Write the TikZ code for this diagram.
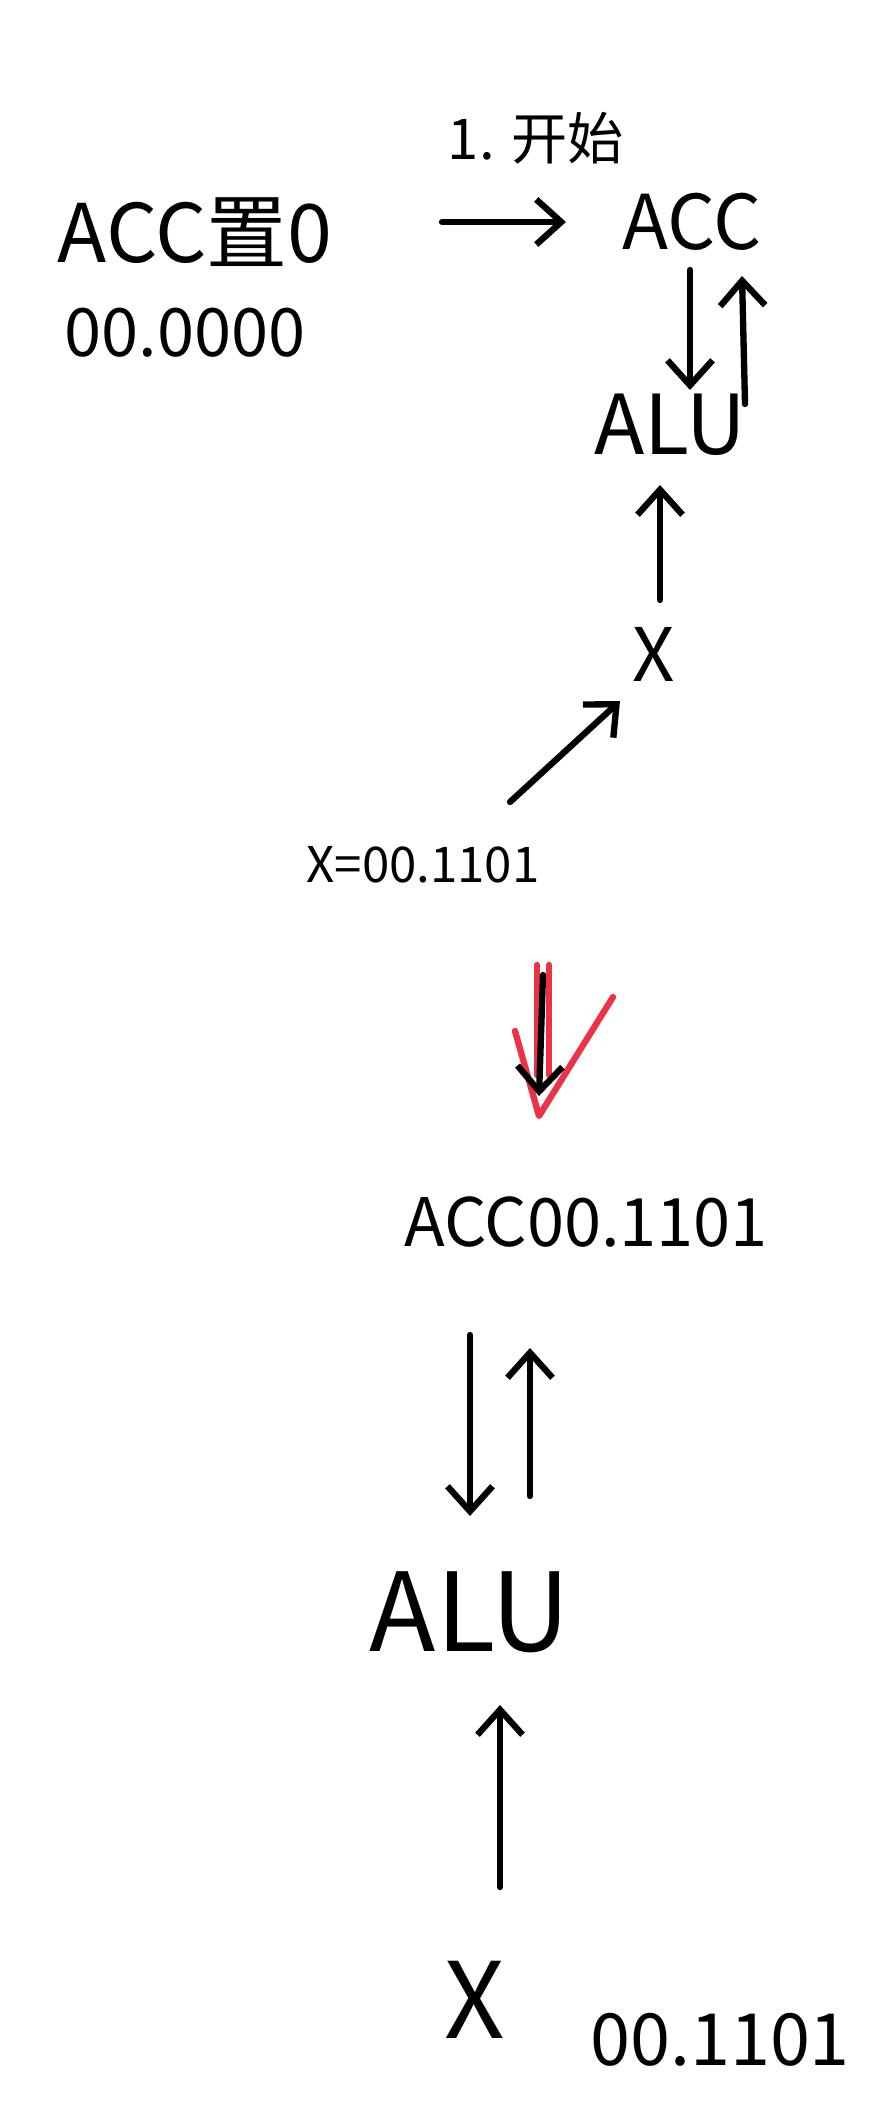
\documentclass[tikz,border=0pt]{standalone}
\usepackage{fontspec}
\setmainfont{Noto Sans CJK SC}
\usetikzlibrary{arrows.meta,positioning,calc}
\definecolor{ink}{RGB}{0,0,0}
\definecolor{redmark}{RGB}{238,50,70}

\begin{document}
\begin{tikzpicture}[x=0.02cm,y=-0.02cm,
    hand/.style={ink,line width=3.6pt,line cap=round,line join=round,
      -{Straight Barb[length=5mm,width=9mm,line width=3.6pt]}},
    lbl/.style={inner sep=0pt,text=ink}]
  \useasboundingbox (0,0) rectangle (887,2115);
  % step 1: clear ACC
  \node[lbl,font=\fontsize{32}{36}\selectfont] (step1) at (536,138) {1. 开始};
  \node[lbl,font=\fontsize{46}{50}\selectfont] (accset) at (195,232) {ACC置0};
  \node[lbl,font=\fontsize{38}{42}\selectfont] (zero) at (185,333) {00.0000};
  \node[lbl,font=\fontsize{43}{47}\selectfont] (accA) at (692,222) {ACC};
  \node[lbl,font=\fontsize{47}{51}\selectfont] (aluA) at (670,425) {ALU};
  \node[lbl,font=\fontsize{42}{46}\selectfont] (xA) at (654,654) {X};
  \node[lbl,font=\fontsize{28}{32}\selectfont] (xval) at (423,865) {X=00.1101};
  \draw[hand] ($(accset)+(247,-10)$) -- ($(accA)+(-126,0)$);
  \draw[hand] ($(accA)+(-2,48)$) -- ($(aluA)+(20,-35)$);
  \draw[hand] ($(aluA)+(75,-21)$) -- ($(accA)+(50,54)$);
  \draw[hand] ($(xA)+(6,-54)$) -- ($(aluA)+(-10,60)$);
  \draw[hand] ($(xval)+(87,-63)$) -- ($(xA)+(-34,47)$);
  % result after the add
  \node[lbl,font=\fontsize{38}{42}\selectfont] (accB) at (586,1222) {ACC00.1101};
  \node[lbl,font=\fontsize{62}{66}\selectfont] (aluB) at (470,1612) {ALU};
  \node[lbl,font=\fontsize{60}{64}\selectfont] (xB) at (475,2000) {X};
  \node[lbl,font=\fontsize{41}{45}\selectfont] (valB) at (720,2040) {00.1101};
  \coordinate (turnTop) at ($(xval)+(120,100)$);
  \coordinate (turnTip) at ($(accB)+(-47,-106)$);
  \foreach \dx in {-6,6}
    \draw[redmark,line width=3.6pt,line cap=round] ($(turnTop)+(\dx,0)$) -- ($(turnTop)+(\dx,110)$);
  \draw[redmark,line width=3.6pt,line cap=round,line join=round]
    ($(turnTip)+(-24,-85)$) -- (turnTip) -- ($(turnTip)+(74,-119)$);
  \draw[hand] ($(turnTop)+(0,10)$) -- ($(turnTip)+(0,-20)$);
  \draw[hand] ($(accB)+(-116,113)$) -- ($(aluB)+(0,-96)$);
  \draw[hand] ($(aluB)+(60,-116)$) -- ($(accB)+(-56,126)$);
  \draw[hand] ($(xB)+(25,-113)$) -- ($(aluB)+(30,93)$);
\end{tikzpicture}
\end{document}
